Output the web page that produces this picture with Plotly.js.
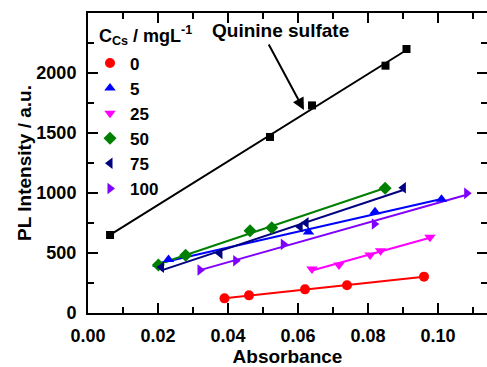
<!DOCTYPE html>
<html><head><meta charset="utf-8">
<script src="https://cdn.plot.ly/plotly-3.0.1.min.js"></script>
<style>html,body{margin:0;padding:0;background:#fff}#chart{width:487px;height:367px}</style>
</head><body><div id="chart"></div>
<script>
// Data
const quinineX = [0.0063, 0.052, 0.064, 0.085, 0.091];
const quinineY = [650, 1467, 1730, 2061, 2200];

const seriesNames = ['0', '5', '25', '50', '75', '100'];
const x0 = [0.039, 0.046, 0.062, 0.074, 0.096];
const y0 = [122, 147, 197, 231, 303];
const x5 = [0.020, 0.023, 0.063, 0.082, 0.101];
const y5 = [405, 445, 675, 844, 947];
const x25 = [0.064, 0.0717, 0.0806, 0.0836, 0.0977];
const y25 = [367, 400, 483, 519, 631];
const x50 = [0.0201, 0.0279, 0.0463, 0.0525, 0.0849];
const y50 = [400, 481, 686, 711, 1039];
const x75 = [0.021, 0.0377, 0.0606, 0.0623, 0.0901];
const y75 = [381, 497, 719, 752, 1044];
const x100 = [0.032, 0.0422, 0.0558, 0.0818, 0.1082];
const y100 = [358, 436, 572, 742, 997];

const yTickVals = [0, 500, 1000, 1500, 2000];
const xTickVals = [0, 0.02, 0.04, 0.06, 0.08, 0.10];

const colors = ['#ff0000', '#0000ff', '#ff00ff', '#008000', '#000080', '#8000ff'];
const symbols = ['circle', 'triangle-up', 'triangle-down', 'diamond', 'triangle-left', 'triangle-right'];
const xs = [x0, x5, x25, x50, x75, x100];
const ys = [y0, y5, y25, y50, y75, y100];

function fit(x, y) {
  const n = x.length;
  let sx = 0, sy = 0, sxx = 0, sxy = 0;
  for (let i = 0; i < n; i++) { sx += x[i]; sy += y[i]; sxx += x[i]*x[i]; sxy += x[i]*y[i]; }
  const b = (n*sxy - sx*sy) / (n*sxx - sx*sx);
  const a = (sy - b*sx) / n;
  const xmin = Math.min(...x), xmax = Math.max(...x);
  return {x: [xmin, xmax], y: [a + b*xmin, a + b*xmax]};
}

const traces = [];
const qf = fit(quinineX, quinineY);
traces.push({x: qf.x, y: qf.y, mode: 'lines', line: {color: '#000', width: 2}, showlegend: false, hoverinfo: 'skip'});
xs.forEach((x, i) => {
  const f = fit(x, ys[i]);
  traces.push({x: f.x, y: f.y, mode: 'lines', line: {color: colors[i], width: 2}, showlegend: false, hoverinfo: 'skip'});
});
traces.push({x: quinineX, y: quinineY, mode: 'markers', marker: {symbol: 'square', size: 8, color: '#000'}, showlegend: false});
xs.forEach((x, i) => {
  traces.push({x: x, y: ys[i], name: seriesNames[i], mode: 'markers',
    marker: {symbol: symbols[i], size: 10, color: colors[i]}});
});

const FAM = 'Liberation Sans, Arial, sans-serif';
const axisFont = {family: FAM, size: 18, color: '#000', weight: 'bold'};
const titleFont = {family: FAM, size: 19, color: '#000', weight: 'bold'};
const layout = {
  width: 487, height: 367,
  margin: {l: 88, r: 0, t: 13, b: 54},
  paper_bgcolor: '#fff', plot_bgcolor: '#fff',
  font: {family: FAM, color: '#000'},
  xaxis: {
    range: [0, 0.114], tickmode: 'array', tickvals: xTickVals, tickformat: '.2f',
    ticks: 'inside', ticklen: 10, tickwidth: 2, tickcolor: '#000',
    showline: true, linewidth: 2, linecolor: '#000', mirror: 'ticks',
    showgrid: false, zeroline: false, tickfont: axisFont, ticklabelstandoff: 5,
    minor: {dtick: 0.01, tick0: 0, ticks: 'inside', ticklen: 6, tickwidth: 2, tickcolor: '#000', showgrid: false},
    title: {text: 'Absorbance', font: titleFont, standoff: 4}
  },
  yaxis: {
    range: [0, 2500], tickmode: 'array', tickvals: yTickVals,
    ticks: 'inside', ticklen: 10, tickwidth: 2, tickcolor: '#000',
    showline: true, linewidth: 2, linecolor: '#000', mirror: 'ticks',
    showgrid: false, zeroline: false, tickfont: axisFont, ticklabelstandoff: 6,
    minor: {dtick: 250, tick0: 0, ticks: 'inside', ticklen: 6, tickwidth: 2, tickcolor: '#000', showgrid: false},
    title: {text: 'PL Intensity / a.u.', font: titleFont, standoff: 0}
  },
  legend: {
    x: 0.005, y: 0.892, xanchor: 'left', yanchor: 'top', bgcolor: 'rgba(0,0,0,0)',
    font: {family: FAM, size: 17, color: '#000', weight: 'bold'},
    itemwidth: 30, tracegroupgap: 0
  },
  annotations: [
    {x: 0.0617, y: 1692, xref: 'x', yref: 'y', text: '', showarrow: true, ax: -36, ay: -67,
     arrowhead: 2, arrowsize: 1.2, arrowwidth: 2, arrowcolor: '#000'},
    {x: 0.0551, y: 2358, xref: 'x', yref: 'y', xanchor: 'center', yanchor: 'middle', text: 'Quinine sulfate', showarrow: false,
     font: {family: FAM, size: 19, color: '#000', weight: 'bold'}},
    {x: 0.0026, y: 2310, xref: 'x', yref: 'y', xanchor: 'left', yanchor: 'middle', text: 'C<sub>Cs</sub> / mgL<sup>-1</sup>', showarrow: false,
     font: {family: FAM, size: 18, color: '#000', weight: 'bold'}}
  ],
  showlegend: true
};
Plotly.newPlot('chart', traces, layout, {displayModeBar: false, staticPlot: true});
</script></body></html>
